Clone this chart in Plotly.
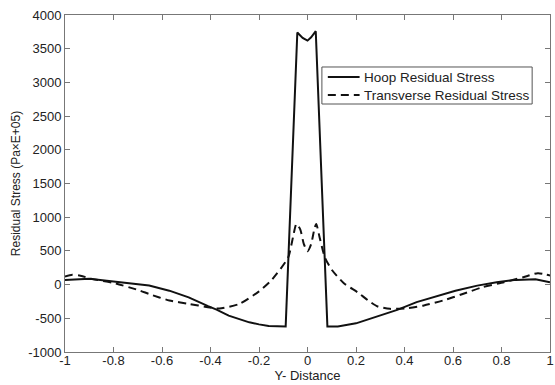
import plotly.graph_objects as go

hoop_x = [-1, -0.95, -0.9, -0.8, -0.73, -0.653, -0.57, -0.49, -0.41, -0.375, -0.325, -0.24, -0.2,
          -0.16, -0.09, -0.042, -0.02, 0, 0.015, 0.034, 0.082, 0.125, 0.2, 0.29, 0.37, 0.45,
          0.53, 0.61, 0.7, 0.78, 0.86, 0.94, 1.0]
hoop_y = [70, 80, 85, 45, 15, -15, -90, -190, -320, -370, -460, -560, -590,
          -615, -620, 3740, 3660, 3620, 3670, 3760, -620, -620, -575, -475, -375, -260,
          -180, -90, -15, 35, 70, 80, 35]

trans_x = [-1, -0.97, -0.94, -0.89, -0.8, -0.69, -0.653, -0.57, -0.49, -0.41, -0.363, -0.28,
           -0.2, -0.15, -0.08, -0.06, -0.046, -0.03, -0.015, 0, 0.015, 0.028, 0.036, 0.05,
           0.072, 0.1, 0.15, 0.207, 0.25, 0.29, 0.34, 0.41, 0.48, 0.56, 0.64, 0.72, 0.81,
           0.89, 0.95, 1.0]
trans_y = [120, 145, 135, 85, 25, -90, -140, -235, -285, -335, -355, -285,
           -100, 60, 400, 700, 900, 820, 600, 495, 600, 820, 900, 700,
           400, 220, 20, -115, -235, -325, -360, -350, -310, -235, -140, -40, 35,
           110, 170, 135]

series_names = ["Hoop Residual Stress", "Transverse Residual Stress"]

x_ticks = [-1, -0.8, -0.6, -0.4, -0.2, 0, 0.2, 0.4, 0.6, 0.8, 1]
y_ticks = [-1000, -500, 0, 500, 1000, 1500, 2000, 2500, 3000, 3500, 4000]

FONT = "Liberation Sans, Arial"
INK = "#111111"
DASH = "8px,5px"

fig = go.Figure()
fig.add_trace(go.Scatter(x=hoop_x, y=hoop_y, mode="lines", name=series_names[0],
                         showlegend=False, line=dict(color=INK, width=2)))
fig.add_trace(go.Scatter(x=trans_x, y=trans_y, mode="lines", name=series_names[1],
                         showlegend=False,
                         line=dict(color=INK, width=2, dash=DASH, shape="spline", smoothing=0.6)))

axis_common = dict(showgrid=False, zeroline=False, showline=True, linecolor="#777777",
                   linewidth=1, mirror="ticks", ticks="inside", ticklen=5, tickcolor="#777777",
                   ticklabeloverflow="allow",
                   tickfont=dict(family=FONT, size=13, color="#222222"))

fig.update_xaxes(range=[-1, 1], tickvals=x_ticks, ticktext=[f"{v:g}" for v in x_ticks],
                 ticklabelstandoff=-4,
                 title=dict(text="Y- Distance", font=dict(family=FONT, size=13, color="#222222"), standoff=0),
                 **axis_common)
fig.update_yaxes(range=[-1000, 4000], tickvals=y_ticks, ticktext=[str(v) for v in y_ticks],
                 title=dict(text="Residual Stress (Pa×E+05)", font=dict(family=FONT, size=12, color="#222222"), standoff=4),
                 **axis_common)

# manual legend (paper coordinates of the plot area)
box = dict(x0=0.5297, x1=0.9632, y0=0.7359, y1=0.8457)
rows = [0.816, 0.7626]
styles = [dict(color=INK, width=2), dict(color=INK, width=2, dash=DASH)]
fig.add_shape(type="rect", xref="paper", yref="paper", **box,
              line=dict(color="#555555", width=1), fillcolor="white", layer="above")
for name, yr, st in zip(series_names, rows, styles):
    fig.add_shape(type="line", xref="paper", yref="paper", x0=0.5419, x1=0.6074,
                  y0=yr, y1=yr, line=st, layer="above")
    fig.add_annotation(xref="paper", yref="paper", x=0.6115, y=yr, text=name,
                       showarrow=False, xanchor="left", yanchor="middle",
                       font=dict(family=FONT, size=13.5, color="#222222"))

fig.update_layout(
    width=555, height=385,
    margin=dict(l=65, r=1, t=15, b=33),
    paper_bgcolor="white", plot_bgcolor="white",
    showlegend=False,
)

fig.write_html("out.html")
